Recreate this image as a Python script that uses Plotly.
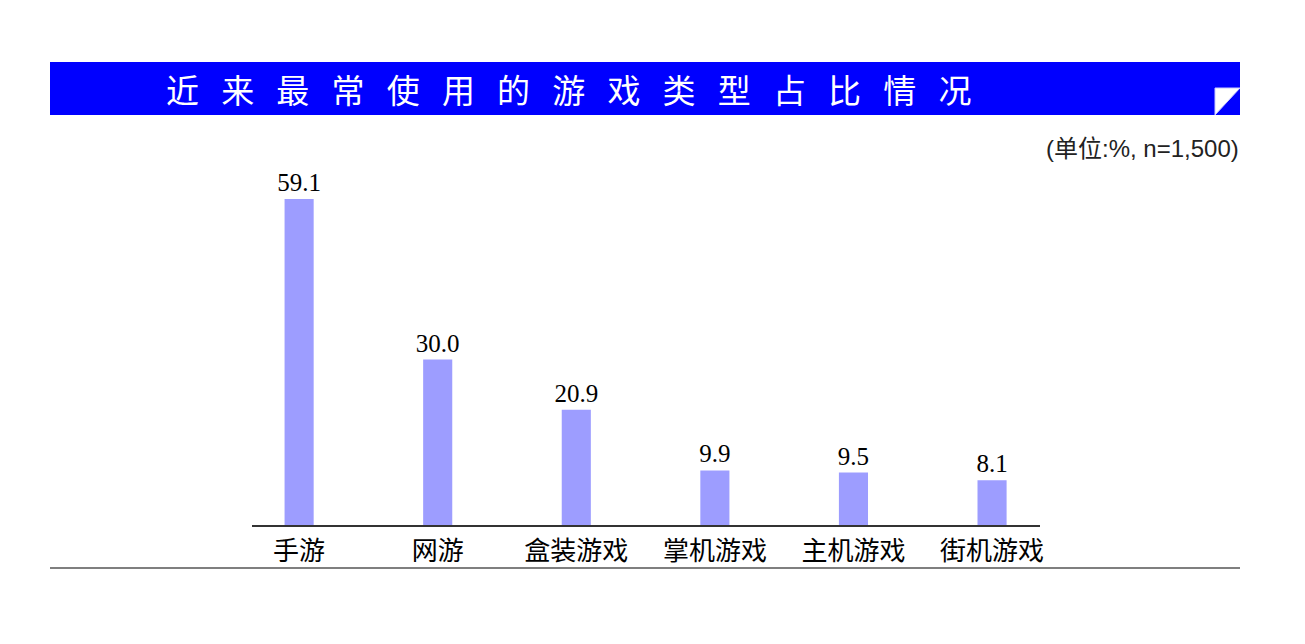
import plotly.graph_objects as go

categories = ["手游", "网游", "盒装游戏", "掌机游戏", "主机游戏", "街机游戏"]
values = [59.1, 30.0, 20.9, 9.9, 9.5, 8.1]
title_text = "近来最常使用的游戏类型占比情况"
unit_text = "(单位:%, n=1,500)"

W, H = 1289, 628
OFF = 8  # page body margin
PL, PR, PT, PB = 252 - OFF, 1040 - OFF, 139 - OFF, 525 - OFF  # plot area in figure px
PW, PH = PR - PL, PB - PT


def px(x):
    return (x - OFF - PL) / PW


def py(y):
    return (PB - (y - OFF)) / PH


x_idx = list(range(len(categories)))

fig = go.Figure()
fig.add_trace(go.Bar(
    x=x_idx, y=values, width=0.21,
    marker=dict(color="#9d9dff", line=dict(width=0)),
    text=[f"{v:.1f}" for v in values], textposition="outside",
    constraintext="none",
    textfont=dict(family="Liberation Serif, DejaVu Serif, serif", size=25, color="#000000"),
    cliponaxis=False,
))

fig.update_layout(
    width=W, height=H,
    margin=dict(l=PL, r=W - PR, t=PT, b=H - PB),
    paper_bgcolor="white", plot_bgcolor="white",
    showlegend=False,
    xaxis=dict(
        range=[-0.34, 5.346], tickmode="array", tickvals=x_idx, ticktext=categories,
        showgrid=False, zeroline=False, showline=True, linecolor="#333333", linewidth=1.5,
        ticks="", ticklabelstandoff=2,
        tickfont=dict(family="Noto Sans CJK SC, sans-serif", size=26, color="#000000"),
        fixedrange=True,
    ),
    yaxis=dict(range=[0, 70], visible=False, fixedrange=True),
    shapes=[
        dict(type="rect", xref="paper", yref="paper",
             x0=px(50), x1=px(1240), y0=py(115), y1=py(62),
             fillcolor="#0000ff", line=dict(width=0), layer="above"),
        dict(type="path", xref="paper", yref="paper",
             path="M {a},{b} L {c},{b} L {a},{d} Z".format(
                 a=px(1215), c=px(1240), b=py(88), d=py(115)),
             fillcolor="white", line=dict(color="#c8c8ff", width=1), layer="above"),
        dict(type="line", xref="paper", yref="paper",
             x0=px(50), x1=px(1240), y0=py(568), y1=py(568),
             line=dict(color="#7f7f7f", width=2)),
    ],
    annotations=[
        dict(text="   ".join(title_text), xref="paper", yref="paper",
             x=px(164), y=py(89), xanchor="left", yanchor="middle",
             showarrow=False,
             font=dict(family="Noto Sans CJK SC, sans-serif", size=33, color="white")),
        dict(text=unit_text, xref="paper", yref="paper",
             x=px(1241), y=py(148), xanchor="right", yanchor="middle",
             showarrow=False,
             font=dict(family="Liberation Sans, Noto Sans CJK SC, sans-serif", size=24, color="#222222")),
    ],
)

fig.write_html("out.html")
